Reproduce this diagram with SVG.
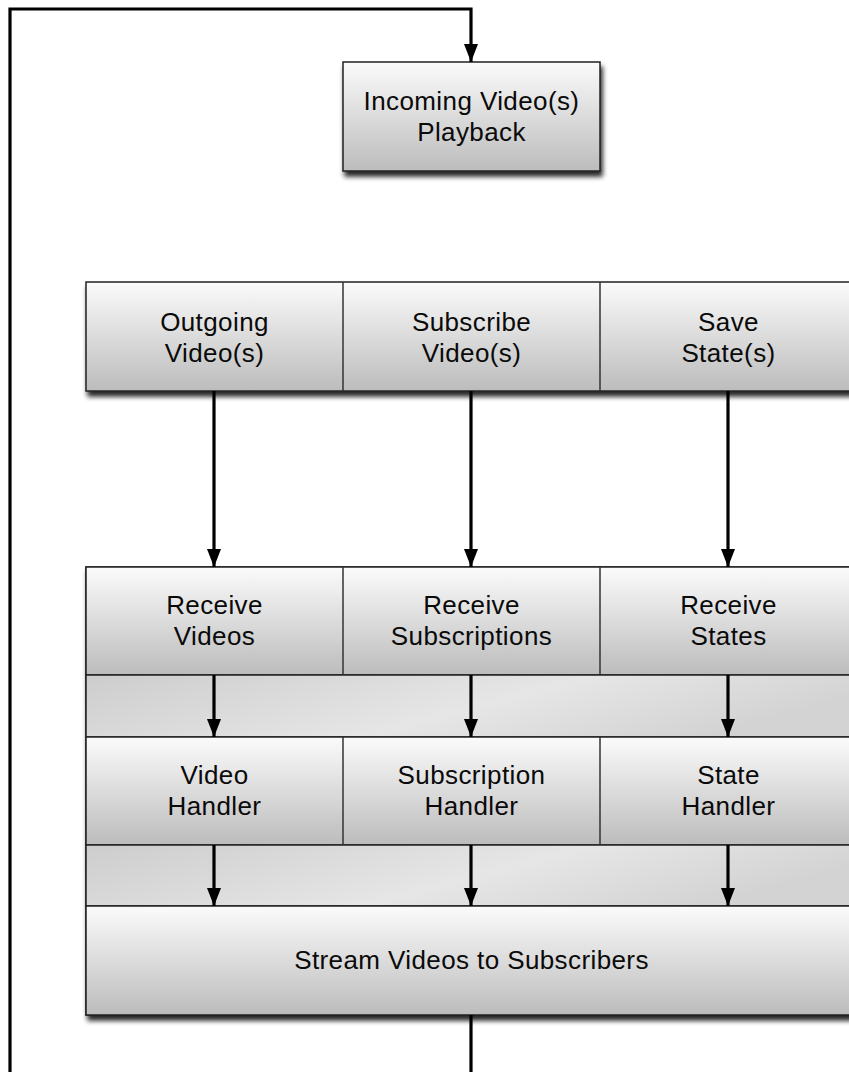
<svg xmlns="http://www.w3.org/2000/svg" width="849" height="1072" viewBox="0 0 849 1072">
<defs>
<linearGradient id="cell" x1="0" y1="0" x2="0" y2="1">
<stop offset="0" stop-color="#fbfbfb"/>
<stop offset="1" stop-color="#bcbcbc"/>
</linearGradient>
<linearGradient id="band" x1="0" y1="0" x2="1" y2="0.3">
<stop offset="0" stop-color="#cdcdcd"/>
<stop offset="0.6" stop-color="#e6e6e6"/>
<stop offset="1" stop-color="#d3d3d3"/>
</linearGradient>
<filter id="shadow" x="-5%" y="-10%" width="115%" height="130%">
<feGaussianBlur in="SourceAlpha" stdDeviation="2.5"/>
<feOffset dx="2" dy="5" result="b"/>
<feComponentTransfer><feFuncA type="linear" slope="0.85"/></feComponentTransfer>
<feMerge><feMergeNode/><feMergeNode in="SourceGraphic"/></feMerge>
</filter>
<marker id="arrow" markerWidth="18" markerHeight="14" refX="18" refY="7" orient="auto" markerUnits="userSpaceOnUse" viewBox="0 0 18 14">
<path d="M0,0 L18,7 L0,14 Z" fill="#000"/>
</marker>
</defs>
<style>
.box{fill:url(#cell);stroke:#222;stroke-width:1.5}
.band{fill:url(#band);stroke:#222;stroke-width:1.5}
.div{stroke:#333;stroke-width:1.5}
.t{font-family:"Liberation Sans",Arial,Helvetica,sans-serif;font-size:26px;fill:#0a0a0a;text-anchor:middle;letter-spacing:0.4px}
.c{fill:none;stroke:#000;stroke-width:3.2}
</style>
<rect width="849" height="1072" fill="#fff"/>

<g id="incoming">
<rect class="box" x="343" y="62" width="257" height="109" filter="url(#shadow)"/>
<text class="t" x="471.5" y="110">Incoming Video(s)</text>
<text class="t" x="471.5" y="141">Playback</text>
</g>

<g id="top-row">
<rect class="box" x="86" y="282" width="780" height="109" filter="url(#shadow)"/>
<line class="div" x1="343" y1="282" x2="343" y2="391"/>
<line class="div" x1="600" y1="282" x2="600" y2="391"/>
</g>
<g id="outgoing">
<text class="t" x="214.5" y="331">Outgoing</text>
<text class="t" x="214.5" y="362">Video(s)</text>
</g>
<g id="subscribe">
<text class="t" x="471.5" y="331">Subscribe</text>
<text class="t" x="471.5" y="362">Video(s)</text>
</g>
<g id="save">
<text class="t" x="728.5" y="331">Save</text>
<text class="t" x="728.5" y="362">State(s)</text>
</g>

<g id="server-panel">
<rect x="86" y="567" width="780" height="448" fill="#ccc" stroke="#222" stroke-width="1.5" filter="url(#shadow)"/>
<rect class="box" x="86" y="567" width="780" height="108"/>
<rect class="band" x="86" y="675" width="780" height="62"/>
<rect class="box" x="86" y="737" width="780" height="108"/>
<rect class="band" x="86" y="845" width="780" height="61"/>
<rect class="box" x="86" y="906" width="780" height="109"/>
<line class="div" x1="343" y1="567" x2="343" y2="675"/>
<line class="div" x1="600" y1="567" x2="600" y2="675"/>
<line class="div" x1="343" y1="737" x2="343" y2="845"/>
<line class="div" x1="600" y1="737" x2="600" y2="845"/>
</g>
<g id="receive-videos">
<text class="t" x="214.5" y="614">Receive</text>
<text class="t" x="214.5" y="645">Videos</text>
</g>
<g id="receive-subscriptions">
<text class="t" x="471.5" y="614">Receive</text>
<text class="t" x="471.5" y="645">Subscriptions</text>
</g>
<g id="receive-states">
<text class="t" x="728.5" y="614">Receive</text>
<text class="t" x="728.5" y="645">States</text>
</g>
<g id="video-handler">
<text class="t" x="214.5" y="784">Video</text>
<text class="t" x="214.5" y="815">Handler</text>
</g>
<g id="subscription-handler">
<text class="t" x="471.5" y="784">Subscription</text>
<text class="t" x="471.5" y="815">Handler</text>
</g>
<g id="state-handler">
<text class="t" x="728.5" y="784">State</text>
<text class="t" x="728.5" y="815">Handler</text>
</g>
<g id="stream">
<text class="t" x="471.5" y="969">Stream Videos to Subscribers</text>
</g>

<g id="connectors">
<path class="c" d="M471,1015 L471,1072"/>
<path class="c" d="M10,1072 L10,9 L471,9 L471,62" marker-end="url(#arrow)"/>
<path class="c" d="M214,391 L214,567" marker-end="url(#arrow)"/>
<path class="c" d="M471,391 L471,567" marker-end="url(#arrow)"/>
<path class="c" d="M728,391 L728,567" marker-end="url(#arrow)"/>
<path class="c" d="M214,675 L214,737" marker-end="url(#arrow)"/>
<path class="c" d="M471,675 L471,737" marker-end="url(#arrow)"/>
<path class="c" d="M728,675 L728,737" marker-end="url(#arrow)"/>
<path class="c" d="M214,845 L214,906" marker-end="url(#arrow)"/>
<path class="c" d="M471,845 L471,906" marker-end="url(#arrow)"/>
<path class="c" d="M728,845 L728,906" marker-end="url(#arrow)"/>
</g>
</svg>
